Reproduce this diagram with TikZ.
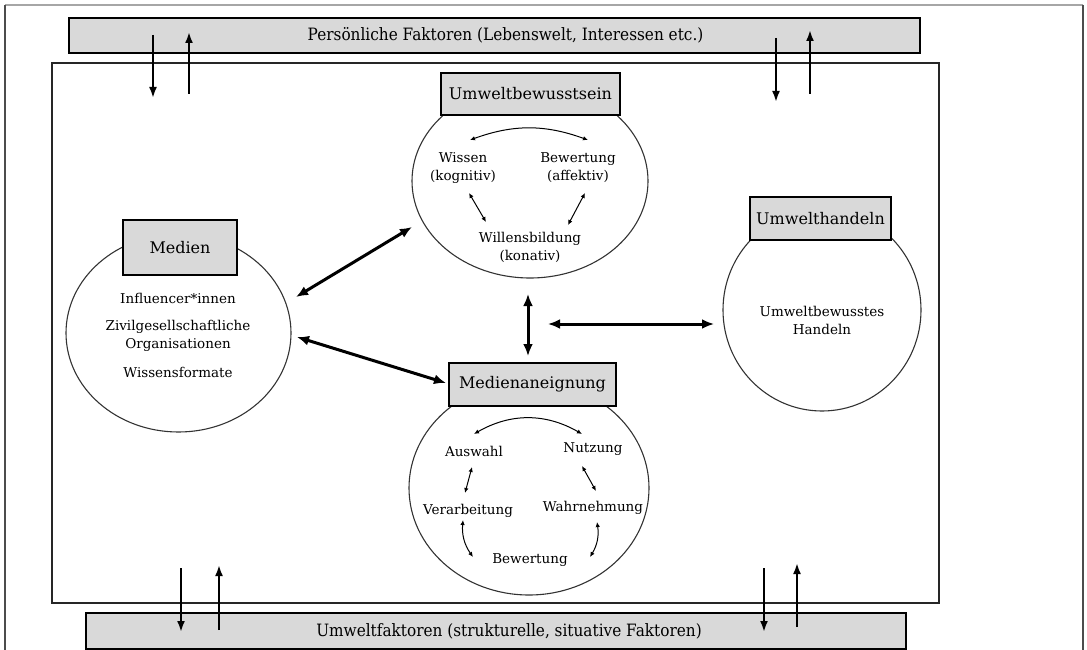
\documentclass[tikz,border=0pt]{standalone}
\usepackage{fontspec}
\setmainfont{DejaVu Serif}
\newfontfamily\narrowfont[FakeStretch=0.9]{DejaVu Serif}
\usetikzlibrary{arrows.meta,shapes.geometric}
\definecolor{boxgray}{HTML}{D9D9D9}
\begin{document}
\begin{tikzpicture}[x=1pt,y=-1pt,
  bar/.style={draw=black,line width=1.5pt,fill=boxgray,inner sep=0pt},
  bartext/.style={inner sep=0pt,font=\narrowfont\fontsize{17}{19}\selectfont},
  titlebox/.style={draw=black,line width=1.5pt,fill=boxgray,inner sep=0pt,font=\fontsize{16}{18}\selectfont},
  blob/.style={draw=black!80,line width=1.1pt,ellipse,inner sep=0pt},
  inner/.style={inner sep=0pt,align=center,font=\fontsize{13.5}{18}\selectfont},
  big/.style={line width=3pt,{Latex[length=12pt,width=10pt]}-{Latex[length=12pt,width=10pt]}},
  small/.style={line width=1pt,{Latex[length=5pt,width=4.5pt]}-{Latex[length=5pt,width=4.5pt]}},
  vert/.style={line width=2.6pt,-{Latex[length=11pt,width=8pt]}}]
\useasboundingbox (0,0) rectangle (1087,650);
\draw[black!35,line width=1.2pt] (5,5) -- (1083,5);
\draw[black!70,line width=1.2pt] (5,5) -- (5,652);
\draw[black!70,line width=1.2pt] (1083,5) -- (1083,652);
\draw[black!85,line width=1.3pt] (52,63) rectangle (939,603);
\node[bar,minimum width=851,minimum height=35] (pers) at (494.5,35.5) {};
\node[bartext] (perstext) at (505.5,35) {Persönliche Faktoren (Lebenswelt, Interessen etc.)};
\node[bar,minimum width=820,minimum height=36] (umw) at (496,631) {};
\node[bartext] (umwtext) at (509,631) {Umweltfaktoren (strukturelle, situative Faktoren)};
\node[blob,minimum width=236,minimum height=194] (bewusstk) at (530,181) {};
\node[titlebox,minimum width=179,minimum height=42] (bewusst) at (530.5,94) {Umweltbewusstsein};
\node[blob,minimum width=225,minimum height=198] (medienk) at (178.5,333) {};
\node[titlebox,minimum width=114,minimum height=55] (medien) at (180,247.5) {Medien};
\node[blob,minimum width=198,minimum height=202] (handelnk) at (822,310) {};
\node[titlebox,minimum width=141,minimum height=43] (handeln) at (820.5,218.5) {Umwelthandeln};
\node[blob,minimum width=240,minimum height=214] (aneigk) at (529,488) {};
\node[titlebox,minimum width=167,minimum height=43] (aneig) at (532.5,384.5) {Medienaneignung};
\node[inner] (wissen) at (463,168) {Wissen\\(kognitiv)};
\node[inner] (bewert) at (578,168) {Bewertung\\(affektiv)};
\node[inner] (willen) at (530,247) {Willensbildung\\(konativ)};
\node[inner] (influ) at (178,298) {Influencer*innen};
\node[inner] (zivil) at (178,335.5) {Zivilgesellschaftliche\\Organisationen};
\node[inner] (wform) at (178,372) {Wissensformate};
\node[inner] (uhand) at (822,320) {Umweltbewusstes\\Handeln};
\node[inner] (auswahl) at (474,451) {Auswahl};
\node[inner] (nutzung) at (593,449) {Nutzung};
\node[inner] (verarb) at (468,511) {Verarbeitung};
\node[inner] (wahrn) at (593,508) {Wahrnehmung};
\node[inner] (bewert2) at (530,560) {Bewertung};
\coordinate (b1) at (470,140);
\coordinate (b2) at (588,140);
\coordinate (b3) at (469,193);
\coordinate (b4) at (486,222);
\coordinate (b5) at (585,193);
\coordinate (b6) at (568,225);
\draw[small] (b1) to[bend left=20] (b2);
\draw[small] (b3) -- (b4);
\draw[small] (b5) -- (b6);
\coordinate (a1) at (474,434);
\coordinate (a2) at (582,434);
\coordinate (a3) at (472,467);
\coordinate (a4) at (465,493);
\coordinate (a5) at (582,466);
\coordinate (a6) at (596,491);
\coordinate (a7) at (463,520);
\coordinate (a8) at (473,557);
\coordinate (a9) at (597,522);
\coordinate (a10) at (590,557);
\draw[small] (a1) to[bend left=30] (a2);
\draw[small] (a3) -- (a4);
\draw[small] (a5) -- (a6);
\draw[small] (a7) to[bend right=20] (a8);
\draw[small] (a9) to[bend left=20] (a10);
\coordinate (m1) at (296,297);
\coordinate (m2) at (412,227);
\coordinate (m3) at (297,337);
\coordinate (m4) at (446,383);
\coordinate (v1) at (528,294);
\coordinate (v2) at (528,356);
\coordinate (h1) at (548,324);
\coordinate (h2) at (714,324);
\draw[big] (m1) -- (m2);
\draw[big] (m3) -- (m4);
\draw[big] (v1) -- (v2);
\draw[big] (h1) -- (h2);
\coordinate (p1) at (153,35);
\coordinate (p2) at (153,98);
\coordinate (p3) at (189,94);
\coordinate (p4) at (189,32);
\coordinate (p5) at (776,38);
\coordinate (p6) at (776,102);
\coordinate (p7) at (810,94);
\coordinate (p8) at (810,30);
\draw[vert] (p1) -- (p2);
\draw[vert] (p3) -- (p4);
\draw[vert] (p5) -- (p6);
\draw[vert] (p7) -- (p8);
\coordinate (u1) at (181,568);
\coordinate (u2) at (181,632);
\coordinate (u3) at (219,630);
\coordinate (u4) at (219,565);
\coordinate (u5) at (764,568);
\coordinate (u6) at (764,632);
\coordinate (u7) at (797,627);
\coordinate (u8) at (797,563);
\draw[vert] (u1) -- (u2);
\draw[vert] (u3) -- (u4);
\draw[vert] (u5) -- (u6);
\draw[vert] (u7) -- (u8);
\end{tikzpicture}
\end{document}
